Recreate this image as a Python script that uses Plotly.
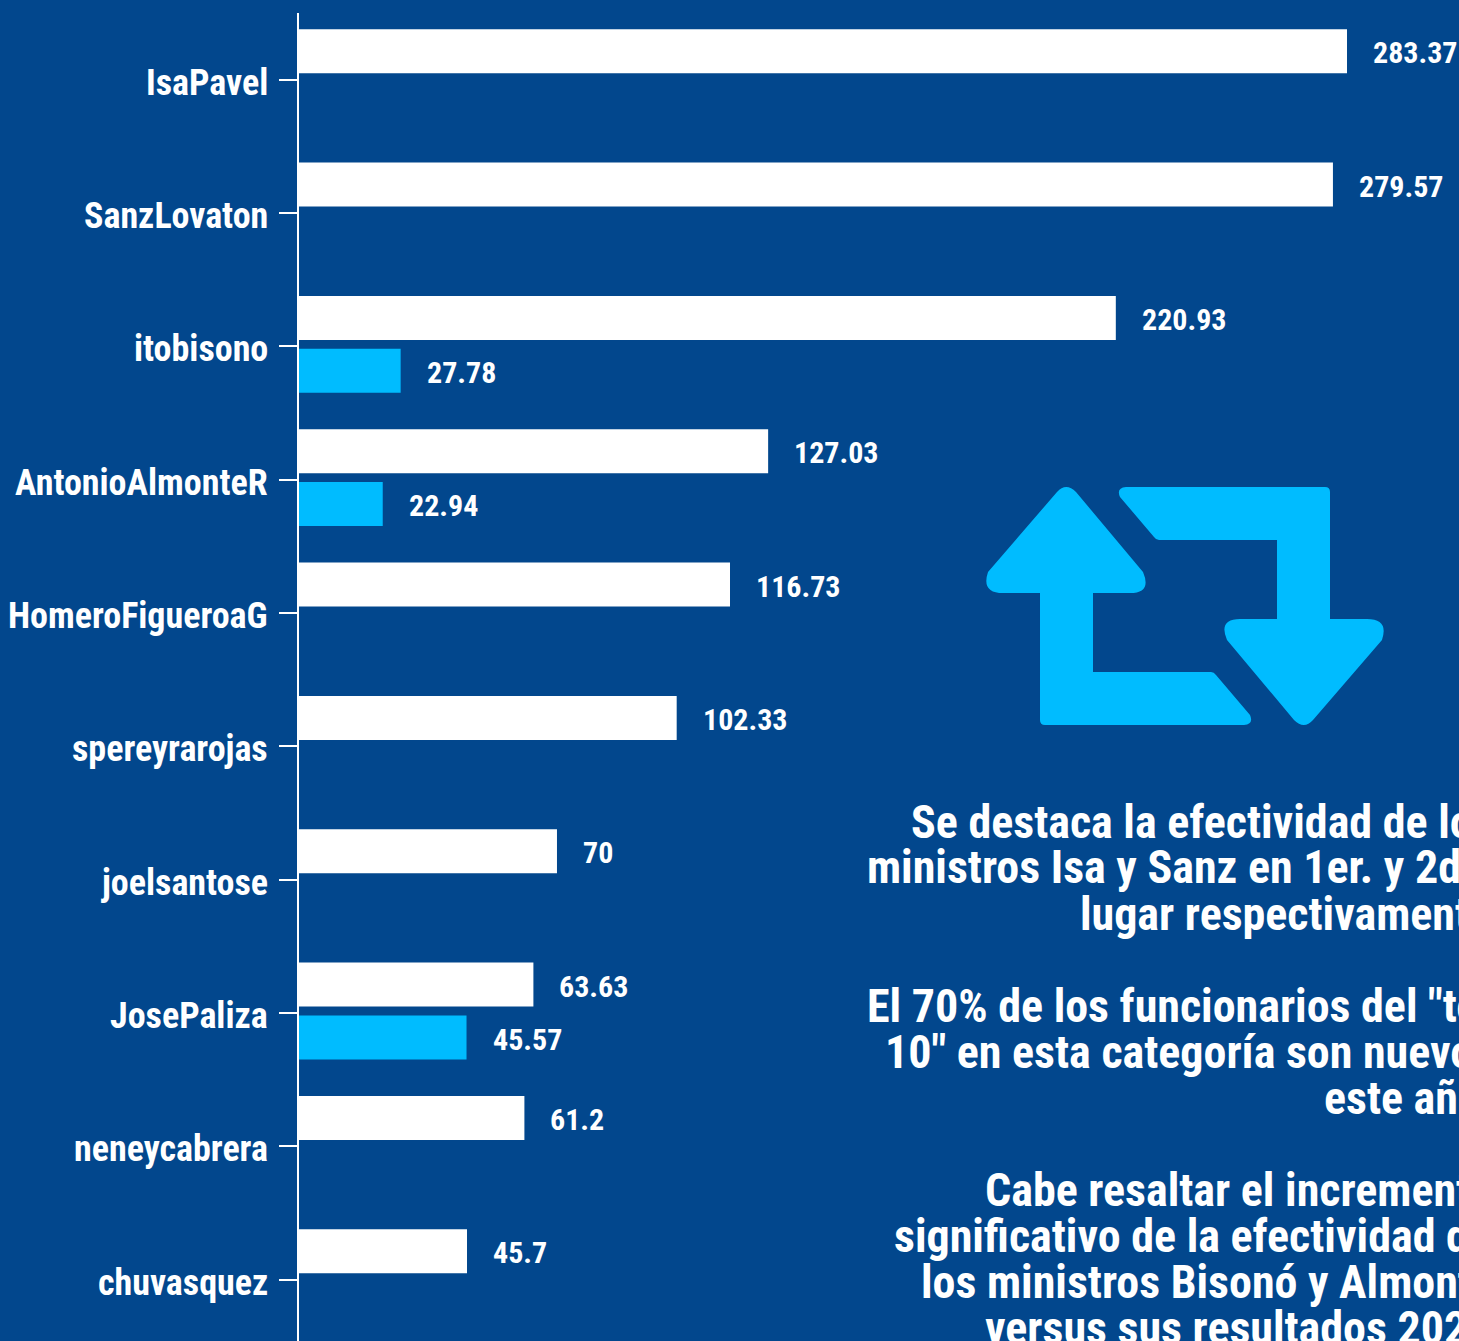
import plotly.graph_objects as go

categories = ["IsaPavel", "SanzLovaton", "itobisono", "AntonioAlmonteR", "HomeroFigueroaG",
              "spereyrarojas", "joelsantose", "JosePaliza", "neneycabrera", "chuvasquez"]
values_current = [283.37, 279.57, 220.93, 127.03, 116.73, 102.33, 70, 63.63, 61.2, 45.7]
values_previous = [None, None, 27.78, 22.94, None, None, None, 45.57, None, None]
note_lines = [
    "Se destaca la efectividad de los", "ministros Isa y Sanz en 1er. y 2do", "lugar respectivamente",
    "", "El 70% de los funcionarios del \"top", "10\" en esta categoría son nuevos", "este año",
    "", "Cabe resaltar el incremento", "significativo de la efectividad de", "los ministros Bisonó y Almonte", "versus sus resultados 2020",
]
note_starts = [909, 865, 1078, 0, 865, 883, 1322, 0, 983, 892, 919, 983]

W, H = 1459, 1341
BG, WHITE, BLUE = "#02478D", "#FFFFFF", "#00BCFF"
FONT = "Roboto Condensed, Liberation Sans Narrow, Roboto"
L, T = 299, 13
SCALE = 3.7026
XMIN = 0.324

def px(x): return (x - L) / (W - L)
def py(y): return 1 - (y - T) / (H - T)

fig = go.Figure()
fig.add_bar(y=categories, x=values_current, orientation="h", marker=dict(color=WHITE, line_width=0), width=0.33, offset=-0.378)
fig.add_bar(y=categories, x=values_previous, orientation="h", marker=dict(color=BLUE, line_width=0), width=0.33, offset=0.018)

for c in categories:
    fig.add_annotation(xref="paper", x=px(270), y=c, text=f"<b>{c}</b>", xanchor="right", yanchor="middle", yshift=-3,
                       showarrow=False, font=dict(family=FONT, size=36, color=WHITE))
for c, v in zip(categories, values_current):
    fig.add_annotation(x=v, y=c, text=f"<b>{v}</b>", xanchor="left", yanchor="middle", xshift=24, yshift=27,
                       showarrow=False, font=dict(family=FONT, size=30, color=WHITE))
for c, v in zip(categories, values_previous):
    if v is not None:
        fig.add_annotation(x=v, y=c, text=f"<b>{v}</b>", xanchor="left", yanchor="middle", xshift=24, yshift=-26,
                           showarrow=False, font=dict(family=FONT, size=30, color=WHITE))

for i, (line, start) in enumerate(zip(note_lines, note_starts)):
    if line:
        fig.add_annotation(xref="paper", yref="paper", x=px(start), y=py(821.5 + i * 46), text=f"<b>{line}</b>",
                           xanchor="left", yanchor="middle", showarrow=False,
                           font=dict(family=FONT, size=46, color=WHITE))

icon = [("M", 1057, 492), ("L", 988, 572), ("Q", 981, 593, 1003, 593), ("L", 1040, 593), ("L", 1040, 720),
        ("Q", 1040, 725, 1045, 725), ("L", 1244, 725), ("Q", 1254, 724, 1250, 715), ("L", 1216, 675),
        ("Q", 1214, 672, 1211, 672), ("L", 1093, 672), ("L", 1093, 593), ("L", 1130, 593),
        ("Q", 1152, 593, 1143, 572), ("L", 1076, 492), ("Q", 1066, 482, 1057, 492)]

def path(rotate=False):
    out = []
    for seg in icon:
        pts = seg[1:]
        conv = []
        for a, b in zip(pts[0::2], pts[1::2]):
            if rotate:
                a, b = 2370 - a, 1212 - b
            conv.append(f"{px(a):.5f},{py(b):.5f}")
        out.append(seg[0] + " ".join(conv))
    return " ".join(out) + " Z"

for r in (False, True):
    fig.add_shape(type="path", xref="paper", yref="paper", path=path(r), fillcolor=BLUE, line_width=0)

fig.update_layout(
    width=W, height=H, autosize=False, paper_bgcolor=BG, plot_bgcolor=BG, showlegend=False,
    barmode="overlay", margin=dict(l=L, r=0, t=T, b=0),
    xaxis=dict(range=[XMIN, XMIN + (W - L) / SCALE], visible=False),
    yaxis=dict(type="category", categoryorder="array", categoryarray=categories, range=[9.46, -0.5],
               showline=True, linecolor=WHITE, linewidth=2, ticks="outside", ticklen=18, tickwidth=2, tickcolor=WHITE,
               showgrid=False, showticklabels=False),
)
fig.write_html("out.html", config={"displayModeBar": False},
               post_script="document.body.style.margin='0';document.documentElement.style.overflow='hidden';")
